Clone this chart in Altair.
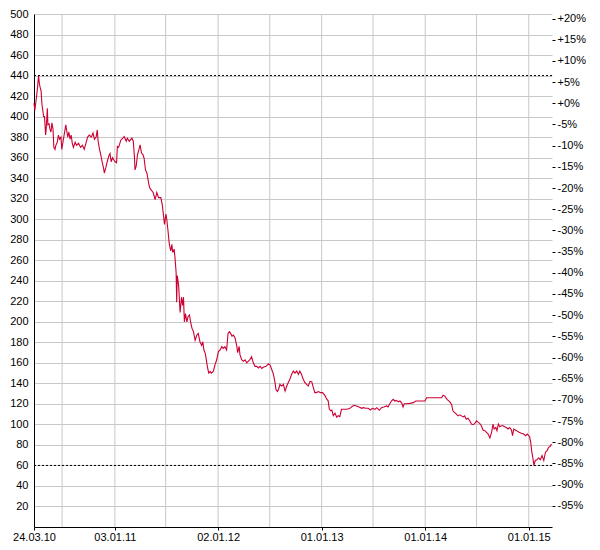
import altair as alt
import pandas as pd

start_date = "2010-03-24"
end_date = "2015-03-24"

day_offsets = [
    0, 3, 10, 13, 16, 19, 22, 25, 28, 34, 37, 41, 43, 47, 49, 53, 56, 60, 63, 67,
    70, 74, 77, 82, 86, 90, 95, 98, 102, 108, 112, 116, 119, 123, 127, 131, 135, 139, 145, 150,
    157, 164, 171, 177, 183, 189, 195, 202, 208, 213, 219, 223, 226, 231, 236, 240, 245, 248, 253, 258,
    264, 268, 272, 277, 281, 286, 291, 294, 298, 301, 306, 313, 318, 325, 329, 336, 345, 350, 354, 356,
    360, 365, 370, 374, 379, 384, 388, 393, 398, 405, 409, 420, 427, 433, 439, 447, 452, 456, 460, 465,
    468, 473, 477, 482, 486, 489, 494, 497, 501, 503, 505, 510, 515, 520, 524, 527, 530, 534, 539, 543,
    548, 553, 557, 562, 568, 574, 579, 585, 591, 595, 599, 604, 609, 612, 616, 621, 625, 632, 638, 644,
    650, 656, 662, 667, 673, 679, 684, 689, 693, 698, 703, 709, 715, 718, 723, 726, 732, 738, 744, 750,
    755, 761, 767, 773, 779, 785, 791, 797, 803, 808, 818, 826, 832, 838, 844, 849, 853, 858, 862, 867,
    873, 879, 885, 891, 896, 902, 908, 914, 920, 926, 932, 937, 943, 949, 955, 961, 967, 973, 979, 984,
    990, 996, 1002, 1010, 1017, 1026, 1032, 1037, 1041, 1046, 1050, 1055, 1061, 1067, 1072, 1078, 1084, 1090, 1102, 1113,
    1119, 1128, 1137, 1146, 1155, 1160, 1170, 1178, 1186, 1193, 1202, 1208, 1217, 1225, 1233, 1243, 1248, 1254, 1260, 1266,
    1272, 1278, 1284, 1290, 1296, 1301, 1305, 1313, 1325, 1337, 1346, 1360, 1378, 1384, 1407, 1437, 1442, 1448, 1456, 1466,
    1472, 1477, 1483, 1489, 1495, 1501, 1507, 1513, 1518, 1524, 1530, 1536, 1542, 1548, 1554, 1560, 1566, 1571, 1577, 1583,
    1589, 1595, 1601, 1607, 1613, 1618, 1622, 1628, 1632, 1637, 1642, 1648, 1654, 1659, 1665, 1671, 1677, 1683, 1687, 1691,
    1701, 1710, 1718, 1726, 1733, 1739, 1747, 1751, 1755, 1759, 1762, 1767, 1773, 1779, 1785, 1791, 1797, 1803, 1809, 1814,
    1819, 1824,
]

prices = [
    413, 406, 422, 430, 440, 432, 428, 425, 412, 400, 400, 382, 388, 408, 392, 393, 388, 385, 394, 388,
    370, 368, 372, 375, 382, 378, 380, 368, 375, 385, 392, 385, 380, 385, 378, 382, 374, 370, 375, 372,
    374, 370, 372, 368, 374, 380, 382, 380, 384, 378, 380, 387, 376, 368, 362, 356, 350, 345, 350, 356,
    362, 364, 356, 360, 358, 356, 355, 371, 370, 372.5, 377, 379, 380.6, 376, 379, 376, 379, 376, 361, 348,
    351.5, 363, 368, 372.5, 364.5, 363, 359.6, 348, 345, 333.7, 330, 326, 319, 326, 321, 321, 314.5, 305, 295, 305,
    300, 287, 275.6, 269, 275.6, 267.5, 270.8, 262.7, 248, 219, 245, 235, 209, 224, 216, 224, 200, 208, 200, 205,
    206.6, 198.5, 193.6, 190.4, 182, 187, 188.7, 180.6, 177, 180.6, 172.5, 169, 160, 155, 150, 151.6, 150, 151.6, 158, 163,
    171, 172.5, 175.8, 174, 175.8, 172.5, 188.7, 190.4, 188.7, 186, 187, 184, 176, 170, 176, 168, 163, 161.5, 163, 160,
    161.5, 163, 166, 160, 156.6, 156.6, 155, 156.6, 154.5, 155.7, 156.6, 159, 158, 153.5, 148.7, 142, 134, 132, 134, 139,
    137.4, 139, 132.5, 137.4, 140.6, 144, 148.7, 152, 150, 152, 148.7, 152, 148.7, 144, 140.6, 139, 137.4, 142, 141.7, 136.5,
    131, 131, 132, 131, 131, 128, 124.6, 123, 115, 113.3, 114, 108.5, 111, 107, 108.5, 107.6, 114.7, 114.7, 114.7, 115.4,
    117, 118.6, 118, 117, 115.7, 116.3, 115.7, 115.7, 114, 115.7, 114.7, 116.3, 113.8, 116.3, 117, 118, 117, 120.2, 122.8, 124.4,
    122.8, 123.4, 122, 122.8, 121, 117, 120.2, 120.2, 120.5, 121.2, 122.8, 122.8, 122.8, 126, 126, 126, 128.5, 127.6, 124.4, 122,
    119.5, 113, 111.5, 110, 108.3, 109.3, 108.3, 107.3, 108.3, 105, 106, 103.5, 100.3, 99.7, 101, 103.5, 102, 101, 98.7, 94.5,
    93.9, 92.3, 90.6, 86.8, 92.3, 100.3, 95.5, 97, 93.9, 100.3, 97.7, 98.7, 98.7, 97.7, 97, 95.5, 97, 94.5, 89, 95.5,
    93.9, 92.3, 91.3, 90.6, 89, 90.6, 88, 82.5, 72.9, 66.5, 60, 64.8, 65.5, 67.4, 65.5, 69.7, 64.8, 72.9, 74.5, 77.7,
    78.4, 80.9,
]

x_label_dates = ["2010-03-24", "2011-01-03", "2012-01-02", "2013-01-01", "2014-01-01", "2015-01-01"]
x_grid_dates = ["2010-07-01", "2011-01-03", "2011-07-01", "2012-01-02", "2012-07-02",
                "2013-01-01", "2013-07-01", "2014-01-01", "2014-07-01", "2015-01-01"]
left_ticks = list(range(20, 501, 20))
right_ticks = [0.20, 0.15, 0.10, 0.05, 0.0, -0.05, -0.10, -0.15, -0.20, -0.25, -0.30, -0.35,
               -0.40, -0.45, -0.50, -0.55, -0.60, -0.65, -0.70, -0.75, -0.80, -0.85, -0.90, -0.95]
y_min, y_max = 0, 500


def dt(s):
    y, m, d = map(int, s.split("-"))
    return alt.DateTime(year=y, month=m, date=d)


start = pd.Timestamp(start_date)
dates = [(start + pd.Timedelta(days=d)).strftime("%Y-%m-%dT00:00:00") for d in day_offsets]
base = prices[0]
df = pd.DataFrame({"date": dates, "price": prices, "pct": [p / base - 1 for p in prices]})
grid_df = pd.DataFrame({"date": [s + "T00:00:00" for s in x_grid_dates]})
level_df = pd.DataFrame({"level": [max(prices), min(prices)]})

x_enc = alt.X(
    "date:T",
    scale=alt.Scale(domain=[dt(start_date), dt(end_date)]),
    axis=alt.Axis(
        values=[dt(s) for s in x_label_dates], format="%d.%m.%y", grid=False, title=None,
        labelAngle=0, domainColor="black", tickColor="black", tickSize=3, labelPadding=1,
        labelFlush=False, labelOverlap=False,
    ),
)

grid = alt.Chart(grid_df).mark_rule(color="#c8c8c8", strokeWidth=1).encode(x=x_enc)

line = alt.Chart(df).mark_line(color="#cc0033", strokeWidth=1.1).encode(
    x=x_enc,
    y=alt.Y(
        "price:Q",
        scale=alt.Scale(domain=[y_min, y_max], nice=False),
        axis=alt.Axis(values=left_ticks, grid=True, gridColor="#c8c8c8", domainColor="black",
                      ticks=False, tickSize=0, labelPadding=6, title=None),
    ),
)

levels = alt.Chart(level_df).mark_rule(color="black", strokeDash=[2, 2], strokeWidth=1).encode(
    y=alt.Y("level:Q", scale=alt.Scale(domain=[y_min, y_max], nice=False), axis=None)
)

pct = alt.Chart(df).mark_line(opacity=0).encode(
    x=x_enc,
    y=alt.Y(
        "pct:Q",
        scale=alt.Scale(domain=[y_min / base - 1, y_max / base - 1], nice=False, zero=False),
        axis=alt.Axis(orient="right", values=right_ticks, grid=False, domain=False, tickSize=3,
                      tickColor="black", labelPadding=2, title=None,
                      labelExpr="(datum.value >= 0 ? '+' : '-') + format(abs(datum.value), '.0%')"),
    ),
)

chart = (
    alt.layer(grid, line, levels, pct)
    .resolve_scale(y="independent")
    .properties(
        width=518, height=513,
        padding={"left": 26, "top": 6, "right": 40, "bottom": 15},
        autosize=alt.AutoSizeParams(type="none"),
    )
    .configure_view(stroke=None)
    .configure_axis(labelFont="Liberation Sans", labelFontSize=11, labelColor="black")
)

chart.save("out.html", embed_options={"renderer": "svg", "actions": False})
